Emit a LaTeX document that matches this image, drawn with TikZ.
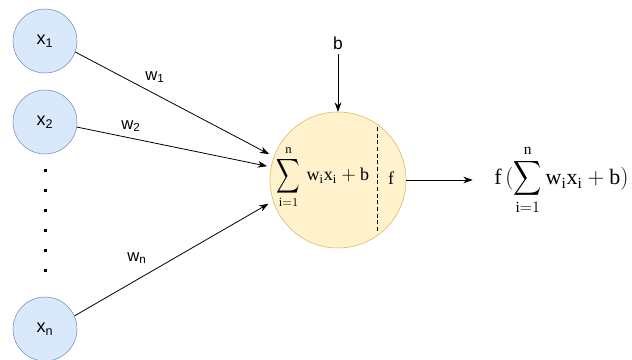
\documentclass[tikz,border=0pt]{standalone}
\usepackage{amsmath}
\usepackage{fontspec}
\setmainfont{Liberation Sans}
\setmathrm{Liberation Serif}
\usetikzlibrary{arrows.meta}
\definecolor{inputfill}{HTML}{DAE8FC}
\definecolor{inputline}{HTML}{6C8EBF}
\definecolor{neuronfill}{HTML}{FFF2CC}
\definecolor{neuronline}{HTML}{D6B656}
\newcommand{\bigsum}[2]{\mathop{\vcenter{\hbox{\scalebox{#1}[#2]{$\displaystyle\sum$}}}}\limits}
\begin{document}
\begin{tikzpicture}[
 x=0.75pt,y=-0.75pt,
 every node/.style={font=\fontsize{12.5}{14}\selectfont},
 inputnode/.style={circle,draw=inputline,fill=inputfill,minimum size=48pt,inner sep=0pt,
  font=\fontsize{13.5}{15}\selectfont},
 neuronnode/.style={circle,draw=neuronline,fill=neuronfill,minimum size=102pt,inner sep=0pt},
 conn/.style={-{Stealth[length=7pt,width=5pt]},semithick},
 formula/.style={font=\fontsize{13.5}{16}\selectfont,inner sep=0pt}
]
 \useasboundingbox (0,0) rectangle (632,360);

 % inputs
 \node[inputnode] (x1) at (45,41) {x\textsubscript{1}};
 \node[inputnode] (x2) at (45,122) {x\textsubscript{2}};
 \node[inputnode] (xn) at (45,329) {x\textsubscript{n}};
 \foreach \y in {170,190,...,270}
  \fill (43.5,\y-1.5) rectangle ++(3,3);

 % neuron
 \node[neuronnode] (neuron) at (338,180) {};
 \draw[semithick,dash pattern=on 3pt off 2pt] (377,127) -- (377,233);
 \node[formula] (sum) at (323,177)
  {$\bigsum{0.85}{1.25}_{\mathrm{i}=1}^{\mathrm{n}}\,\mathrm{w_i x_i}+\mathrm{b}$};
 \node[formula] (act) at (391,178) {$\mathrm{f}$};
 \node[font=\fontsize{13}{15}\selectfont] (bias) at (338,43) {b};

 % output
 \node[formula,font=\fontsize{16.5}{19}\selectfont,anchor=west] (out) at (494,180)
  {$\mathrm{f}\,(\bigsum{0.85}{1.05}_{\mathrm{i}=1}^{\mathrm{n}}\mathrm{w_i x_i}+\mathrm{b})$};

 \draw[conn,shorten >=4pt] (x1.-20) -- (neuron.160);
 \draw[conn,shorten >=3pt] (x2.-9) -- (neuron.169);
 \draw[conn,shorten >=4pt] (xn.24) -- (neuron.198);
 \draw[conn] (bias.south) -- (neuron.north);
 \draw[conn,shorten >=16pt] (neuron.east) -- (out.west);

 \node at (155,77) {w\textsubscript{1}};
 \node at (131,126) {w\textsubscript{2}};
 \node at (137,258) {w\textsubscript{n}};
\end{tikzpicture}
\end{document}
